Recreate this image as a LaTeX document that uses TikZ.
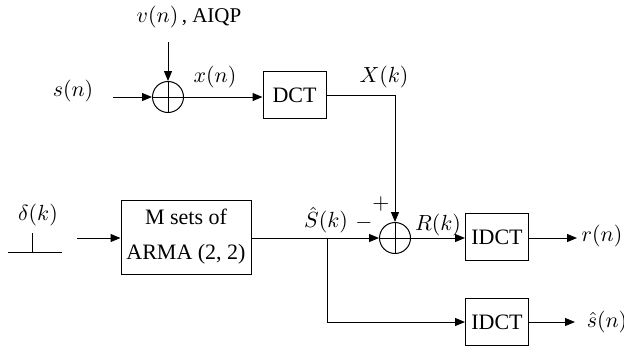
\documentclass[tikz,border=0pt]{standalone}
\usepackage{fontspec}
\setmainfont{Liberation Serif}
\usepackage{amsmath}
\usetikzlibrary{positioning,arrows.meta,calc}

\begin{document}
\begin{tikzpicture}[x=0.5pt,y=-0.5pt,line width=0.5pt,
      >={Triangle[length=5pt,width=4pt]},
      box/.style={draw,minimum width=31.5pt,minimum height=23.5pt,inner sep=1pt,font=\fontsize{11}{13}\selectfont},
      sumnode/.style={draw,circle,minimum size=15.5pt,inner sep=0pt,
        path picture={\draw (path picture bounding box.north) -- (path picture bounding box.south)
          (path picture bounding box.west) -- (path picture bounding box.east);}},
      lbl/.style={inner sep=1pt,font=\fontsize{10.5}{13}\selectfont}]
    \useasboundingbox (0,0) rectangle (624,350);

    % top row
    \node[sumnode] (sum1) at (168,97) {};
    \node[box] (dct) at (294.5,95) {DCT};
    \node[lbl] (vn) at (189,17) {$v(n)$\,, AIQP};
    \node[lbl] (sn) at (73,91) {$s(n)$};
    \node[lbl] (xn) at (215,77) {$x(n)$};
    \node[lbl] (Xk) at (384,77) {$X(k)$};
    \coordinate (vin) at (168,42);
    \coordinate (sin) at (113,97);

    % bottom rows
    \node[box,minimum width=65pt,minimum height=37pt,align=center,
          font=\fontsize{11}{17.5}\selectfont] (arma) at (186,237) {M sets of\\ARMA (2, 2)};
    \node[sumnode] (sum2) at (395,238) {};
    \node[box] (idct1) at (497,237) {IDCT};
    \node[box] (idct2) at (497,322) {IDCT};
    \node[lbl] (dk) at (38,215) {$\delta(k)$};
    \node[lbl] (Sk) at (326,220) {$\hat{S}(k)$};
    \node[lbl] (minus) at (364,223) {$-$};
    \node[lbl] (plus) at (381,204) {$+$};
    \node[lbl] (Rk) at (438,225) {$R(k)$};
    \node[lbl] (rn) at (602,236) {$r(n)$};
    \node[lbl] (shn) at (607,322) {$\hat{s}(n)$};
    \coordinate (din) at (77,238);
    \coordinate (br) at (327,238);
    \coordinate (rout) at (577,238);
    \coordinate (sout) at (575,322);

    % impulse
    \draw (8,252) -- (62,252);
    \draw (32,252) -- (32,233);

    \draw[->] (vin) -- (sum1.north);
    \draw[->] (sin) -- (sum1.west);
    \draw[->] (sum1.east) -- (sum1 -| dct.west);
    \draw[->] (dct.east) -| (sum2.north);
    \draw[->] (din) -- (din -| arma.west);
    \draw (arma.east |- br) -- (br);
    \draw[->] (br) -- (sum2.west);
    \draw[->] (br) |- (idct2.west);
    \draw[->] (sum2.east) -- (sum2 -| idct1.west);
    \draw[->] (idct1.east |- rout) -- (rout);
    \draw[->] (idct2.east) -- (sout);
  \end{tikzpicture}
\end{document}
